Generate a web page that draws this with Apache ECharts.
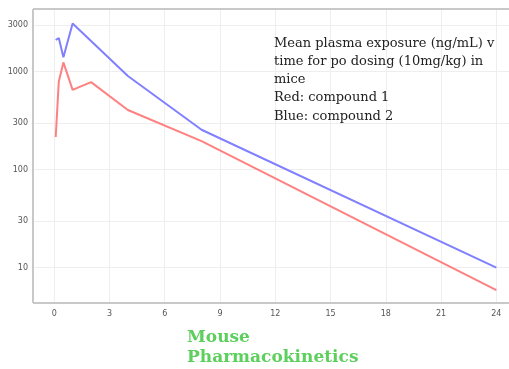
<!DOCTYPE html>
<html>
<head>
<meta charset="utf-8">
<script src="https://cdn.jsdelivr.net/npm/echarts@6/dist/echarts.min.js"></script>
<style>
html,body{margin:0;padding:0;background:#fff;overflow:hidden;}
#chart{width:526px;height:369px;}
</style>
</head>
<body>
<div id="chart"></div>
<script>
// Time points (h)
var times = [0.083, 0.25, 0.5, 1, 2, 4, 8, 24];
// Compound 1 (red), ng/mL
var compound1 = [215, 790, 1240, 650, 780, 405, 195, 5.9];
// Compound 2 (blue), ng/mL
var compound2 = [2100, 2200, 1400, 3100, 2050, 900, 255, 10];
// Axis ticks
var xTicks = [0, 3, 6, 9, 12, 15, 18, 21, 24];
var yTicks = [10, 30, 100, 300, 1000, 3000];
// Axis ranges
var xRange = [-1.15, 25.5];
var yRange = [4.35, 4350];

function pairs(xs, ys){ return xs.map(function(x,i){ return [x, ys[i]]; }); }

var chart = echarts.init(document.getElementById('chart'), null, {renderer:'canvas'});
chart.setOption({
  animation:false,
  backgroundColor:'#fff',
  grid:{left:33, top:9, height:294, width:491, show:false},
  xAxis:{
    type:'value', min:xRange[0], max:xRange[1],
    axisLine:{show:false},
    axisTick:{show:false, customValues:xTicks},
    axisLabel:{customValues:xTicks, color:'#555', fontSize:8, fontFamily:'DejaVu Sans', margin:7,
      formatter:function(v){ return String(v); }},
    splitLine:{show:true, lineStyle:{color:'#eeeeee', width:1}}
  },
  yAxis:{
    type:'log', logBase:10, min:yRange[0], max:yRange[1],
    axisLine:{show:false},
    axisTick:{show:false, customValues:yTicks},
    axisLabel:{customValues:yTicks, color:'#555', fontSize:8, fontFamily:'DejaVu Sans', margin:5,
      formatter:function(v){ return String(Math.round(v)); }},
    splitLine:{show:true, lineStyle:{color:'#eeeeee', width:1}}
  },
  series:[
    {type:'line', data:pairs(times, compound2), symbol:'none', lineStyle:{color:'#8080ff', width:2},
     markLine:{silent:true, symbol:'none', label:{show:false},
       lineStyle:{color:'#c8c8c8', width:2, type:'solid'},
       data:[{yAxis:yRange[1]}, {yAxis:yRange[0]}, {xAxis:xRange[0]}]}},
    {type:'line', data:pairs(times, compound1), symbol:'none', lineStyle:{color:'#ff8080', width:2}}
  ],
  graphic:[
    {type:'text', z:100, left:274, top:34, style:{
      text:'Mean plasma exposure (ng/mL) v\ntime for po dosing (10mg/kg) in\nmice\nRed: compound 1\nBlue: compound 2',
      font:'13px "DejaVu Serif"', fill:'#222', lineHeight:18.3}},
    {type:'text', z:100, left:187, top:328, style:{
      text:'Mouse\nPharmacokinetics',
      font:'bold 17px "DejaVu Serif"', fill:'#5ccf5c', lineHeight:20}}
  ]
});
</script>
</body>
</html>
